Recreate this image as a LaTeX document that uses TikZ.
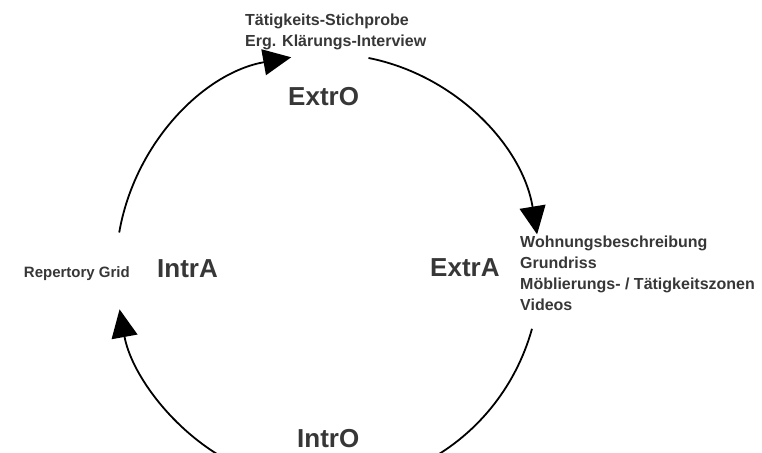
\documentclass[tikz,border=0pt]{standalone}
\usepackage{fontspec}
\setmainfont{Liberation Sans}
\usetikzlibrary{arrows.meta,calc}

\definecolor{labelgray}{RGB}{55,55,55}

\tikzset{
  cyclearc/.style={line width=1.8pt, draw=black},
  tipped/.style={cyclearc, -{Triangle[length=28pt,width=26pt]}},
  phase/.style={inner sep=0pt, anchor=base west, text=labelgray,
    font=\fontsize{26}{30}\selectfont\bfseries},
  method/.style={inner sep=0pt, anchor=base west, text=labelgray,
    font=\fontsize{16}{21}\selectfont\bfseries},
}

\begin{document}
\begin{tikzpicture}[x=1pt,y=-1pt]
  \clip (0,0) rectangle (762,452);

  % centre of the elliptical cycle (y grows downwards here)
  \coordinate (c) at (328,270);
  \coordinate (s1) at ($(c)+(-170:212 and 216)$);
  \coordinate (s2) at ($(c)+(-79:212 and 216)$);
  \coordinate (s3) at ($(c)+(15.8:212 and 216)$);
  \coordinate (s4) at ($(c)+(120:212 and 216)$);

  % the four arcs of the cycle
  \draw[tipped] (s1) arc[start angle=-170, end angle=-100, x radius=212, y radius=216];
  \draw[tipped] (s2) arc[start angle=-79, end angle=-9.5, x radius=212, y radius=216];
  \draw[cyclearc] (s3) arc[start angle=15.8, end angle=64, x radius=212, y radius=216];
  \draw[tipped] (s4) arc[start angle=120, end angle=169.5, x radius=212, y radius=216];

  % phase labels
  \node[phase] (extro) at (288,105) {ExtrO};
  \node[phase] (extra) at (430,276) {ExtrA};
  \node[phase] (intra) at (157,277) {IntrA};
  \node[phase] (intro) at (297,447) {IntrO};

  % methods per phase
  \node[method] (m1) at (245,26) {Tätigkeits-Stichprobe};
  \node[method] (m2) at (245,47) {Erg. Klärungs-Interview};

  \node[method] (w1) at (520,247) {Wohnungsbeschreibung};
  \node[method] (w2) at (520,268) {Grundriss};
  \node[method] (w3) at (520,289) {Möblierungs- / Tätigkeitszonen};
  \node[method] (w4) at (520,310) {Videos};

  \node[method, anchor=base east, font=\fontsize{15}{19}\selectfont\bfseries]
    (rep) at (130,277) {Repertory Grid};
\end{tikzpicture}
\end{document}
